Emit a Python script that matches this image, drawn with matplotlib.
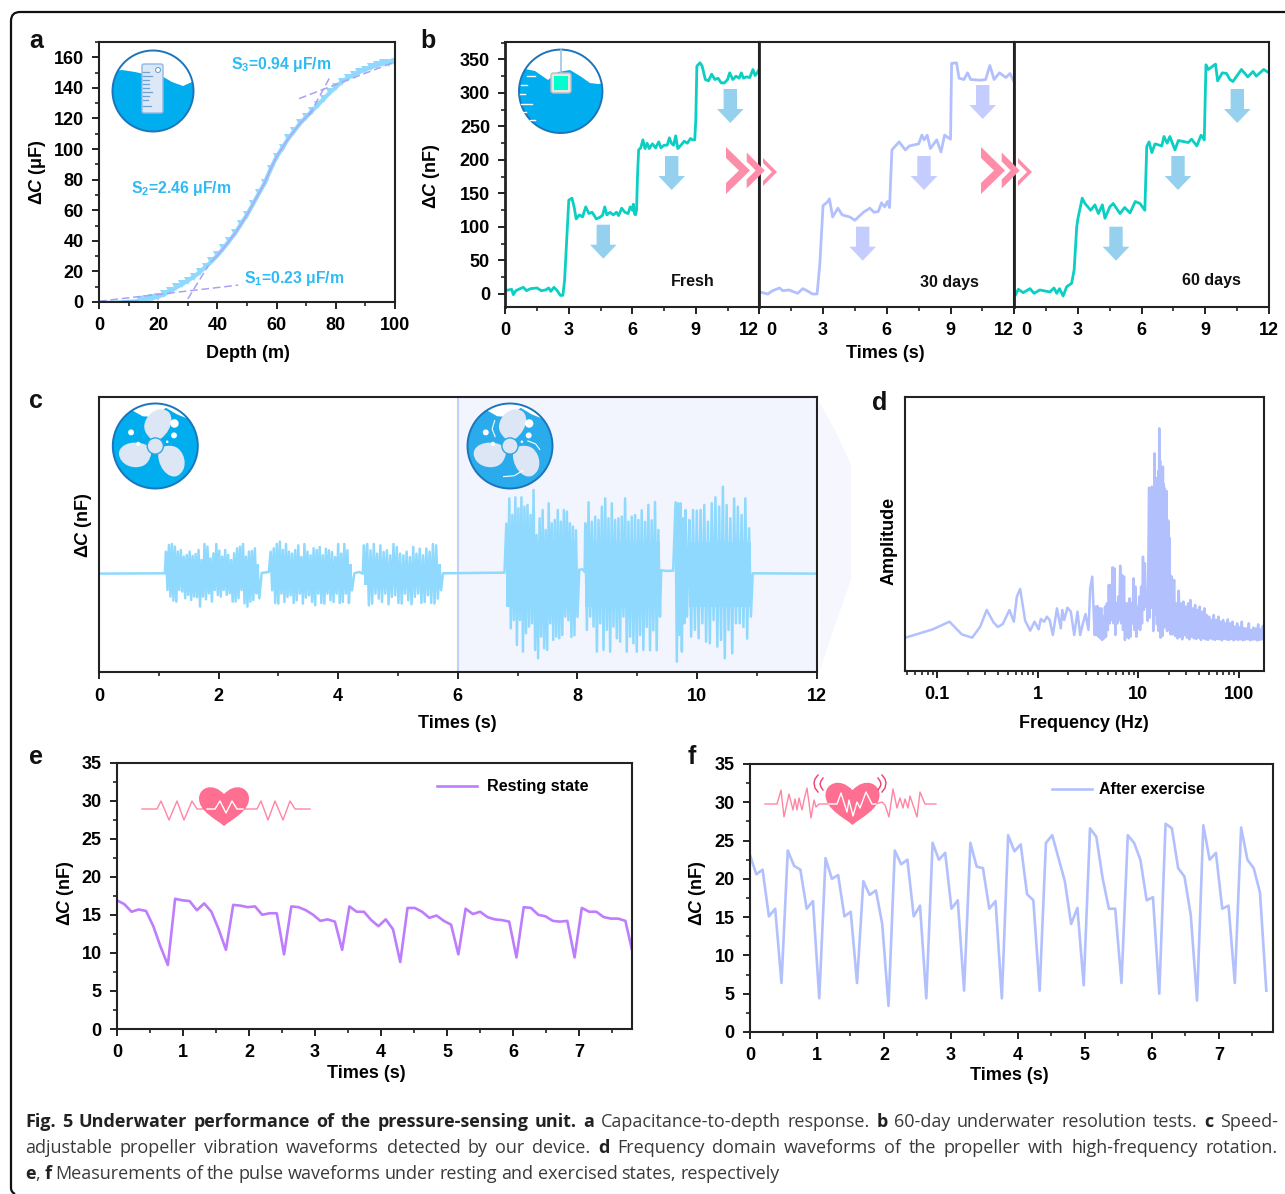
import numpy as np
import matplotlib
matplotlib.use('Agg')
from matplotlib import pyplot as plt
from matplotlib.patches import Circle, Polygon, FancyBboxPatch, PathPatch, Rectangle
from matplotlib.path import Path
from matplotlib.ticker import MultipleLocator, FixedLocator, FixedFormatter, LogLocator, NullFormatter
from matplotlib.transforms import ScaledTranslation

W, H = 1285, 1194

plt.rcParams['font.family'] = ['Liberation Sans', 'DejaVu Sans']
plt.rcParams['font.weight'] = 'bold'
plt.rcParams['axes.labelweight'] = 'bold'
plt.rcParams['mathtext.fontset'] = 'custom'
plt.rcParams['mathtext.rm'] = 'Liberation Sans:bold'
plt.rcParams['mathtext.it'] = 'Liberation Sans:italic:bold'
plt.rcParams['mathtext.bf'] = 'Liberation Sans:bold'

TEAL = '#0ACFC2'
LAV = '#B2C1FD'
SKY = '#8FD9FE'
ANNOT = '#2DBAF5'

# panel a
depth = np.arange(0, 101, 2)
cap = [0, 0.1, 0.2, 0.3, 0.5, 0.8, 1, 1.3, 1.8, 2.5, 3.5, 5, 7, 9.5, 11.5, 14, 16.5, 19.5, 23, 26.5,
       30.5, 35, 40, 45, 51, 57, 64, 71, 78, 87, 95, 101, 107, 112, 117, 121, 125, 129, 133, 137,
       140.5, 144, 146.5, 148.5, 150.5, 152, 153.5, 155, 156, 156.5, 157]
s1_x, s1_y = [0, 47], [0.5, 11]
s2a_x, s2a_y = [30, 37], [2, 24]
s2b_x, s2b_y = [71, 78.3], [122, 148]
s3_x, s3_y = [67.6, 100], [133, 157]

# panel b
fresh_t = [0, .15, .3, .38, .5, .7, .85, 1.0, 1.2, 1.5, 1.7, 1.9, 2.05, 2.15, 2.3, 2.45, 2.6, 2.72, 2.8, 2.9, 3.0, 3.15,
           3.25, 3.35, 3.5, 3.65, 3.8, 3.95, 4.1, 4.3, 4.5, 4.6, 4.7, 4.8, 4.95, 5.1, 5.25, 5.35, 5.5, 5.65, 5.8,
           5.9, 6.0, 6.05, 6.1, 6.15, 6.2, 6.25, 6.3, 6.4, 6.5, 6.6, 6.7, 6.8, 6.95, 7.1, 7.25, 7.35, 7.5, 7.65, 7.75,
           7.85, 7.95, 8.05, 8.15, 8.3, 8.45, 8.6, 8.75, 8.85, 8.95, 9.0, 9.05, 9.2, 9.3, 9.45, 9.6, 9.75, 9.9,
           10.05, 10.2, 10.35, 10.5, 10.6, 10.75, 10.9, 11.05, 11.15, 11.25, 11.4, 11.55, 11.7, 11.8, 11.9, 12.0]
fresh_v = [5, 6, 7, -1, 5, 8, 10, 5, 8, 9, 5, 6, 9, 4, 10, 5, -2, -2, 20, 80, 140, 143,
           130, 112, 118, 115, 130, 120, 122, 112, 115, 118, 130, 118, 122, 118, 122, 117, 128, 122, 120,
           130, 125, 134, 120, 118, 125, 180, 215, 218, 230, 217, 225, 217, 224, 218, 227, 218, 222, 222, 233,
           225, 222, 236, 217, 222, 228, 225, 232, 230, 230, 260, 340, 345, 340, 320, 318, 328, 320,
           322, 315, 315, 320, 330, 320, 325, 322, 330, 322, 324, 323, 335, 326, 330, 336]
d30_t = [0, .15, .4, .63, .95, 1.1, 1.4, 1.8, 2.05, 2.35, 2.5, 2.72, 2.85, 3.0, 3.2, 3.3, 3.45, 3.7, 3.9, 4.25, 4.5, 4.9,
         5.2, 5.4, 5.6, 5.75, 5.9, 6.03, 6.13, 6.24, 6.58, 6.87, 7.07, 7.5, 7.65, 7.76, 7.9, 8.05, 8.35, 8.55, 8.72,
         9.0, 9.05, 9.28, 9.4, 9.63, 9.8, 9.95, 10.4, 10.65, 10.85, 11.05, 11.3, 11.6, 11.8, 11.95]
d30_v = [3, 2, 0, 5, 9, 5, 6, 1, 8, 3, 0, 0, 45, 132, 137, 142, 115, 128, 118, 115, 110, 122,
         128, 122, 123, 136, 130, 138, 129, 215, 227, 215, 221, 224, 237, 230, 237, 217, 230, 212, 237,
         231, 344, 345, 322, 320, 330, 320, 319, 320, 341, 320, 330, 323, 329, 319]
d60_t = [.06, .19, .42, .74, .93, 1.2, 1.68, 1.87, 2.0, 2.13, 2.3, 2.47, 2.7, 2.82, 2.94, 3.0, 3.2, 3.33, 3.6, 3.8, 3.96,
         4.15, 4.27, 4.5, 4.66, 4.98, 5.2, 5.45, 5.7, 5.92, 6.15, 6.24, 6.35, 6.48, 6.63, 6.95, 7.05, 7.2, 7.33, 7.57,
         7.73, 8.2, 8.35, 8.6, 8.8, 8.95, 9.03, 9.14, 9.48, 9.58, 9.8, 10.0, 10.16, 10.3, 10.7, 11.0, 11.25, 11.4,
         11.75, 12.0]
d60_v = [-1, 7, 2, 8, 1, 6, 3, 9, 1, 8, -3, 11, 16, 36, 100, 113, 143, 135, 125, 133, 120,
         133, 113, 130, 135, 120, 129, 121, 138, 135, 125, 220, 227, 211, 224, 221, 235, 225, 235, 215,
         229, 226, 231, 221, 237, 230, 342, 335, 343, 318, 330, 329, 320, 317, 335, 324, 332, 325,
         335, 330]

# panel c, one list of upper and one of lower spikes per burst
bursts_t = [(1.12, 2.68), (2.87, 4.23), (4.43, 5.72), (6.81, 8.0), (8.13, 9.38), (9.64, 9.83), (9.87, 10.9)]
core_up = [.3, .3, .3, .95, .95, .95, .95]
core_lo = [-.35, -.35, -.35, -1.0, -1.0, -1.0, -1.0]
burst_up = [
    [.66, .86, .89, .81, .66, .71, .51, .56, .66, .53, .59, .71, .41, .89, .81, .46, .61, .89, .69, .51,
     .71, .56, .41, .61, .76, .81, .89, .51, .66, .68, .76, .1],
    [.66, .76, .89, .96, .71, .89, .66, .6, .71, .85, .5, .89, .66, .55, .76, .71, .8, .55, .75, .7,
     .65, .5, .89, .6, .89, .7, .1],
    [.85, .89, .7, .89, .6, .85, .65, .7, .55, .89, .8, .6, .55, .66, .5, .8, .6, .75, .55, .75,
     .66, .89, .85, .2],
    [1.5, 2.26, 1.76, 2.29, 1.96, 2.29, 2.01, 2.06, 1.76, 2.51, 1.16, 1.66, 1.91, 1.31, 2.11, 1.51, 1.61, 1.91,
     1.56, 1.91, 1.86, 1.51, 1.41, 1.3],
    [1.51, 2.14, 1.56, 1.71, 1.61, 2.01, 2.26, 1.66, 2.11, 1.61, 1.66, 1.71, 2.26, 1.56, 1.71, 1.76, 1.61, 1.9,
     1.55, 2.06, 1.6, 2.15, 1.31],
    [2.14, 2.11, 2.11, 1.66, 1.91],
    [1.61, 1.91, 1.89, 1.91, 2.06, 1.56, 2.11, 2.29, 2.01, 2.61, 2.06, 1.66, 2.26, 2.01, 1.76, 2.26, 1.36],
]
burst_lo = [
    [-.49, -.69, -.81, -.84, -.49, -.54, -.74, -.64, -.79, -.69, -.71, -.99, -.69, -.77, -.59, -.84, -.49,
     -.64, -.69, -.49, -.64, -.59, -.84, -.84, -.74, -.49, -.89, -.99, -.84, -.79, -.59, -.74],
    [-.5, -.88, -.9, -.6, -.85, -.7, -.65, -.88, -.8, -.6, -.9, -.72, -.65, -.85, -.95, -.6, -.88, -.9, -.6,
     -.8, -.85, -.6, -.88, -.85, -.6, -.88, -.5],
    [-.3, -.95, -.9, -.6, -.75, -.85, -.6, -.92, -.7, -.65, -.88, -.9, -.6, -.8, -.92, -.7, -.6, -.88, -.85, -.65,
     -.88, -.9, -.75, -.5],
    [-.64, -1.64, -1.39, -2.14, -1.39, -2.34, -1.79, -1.59, -1.49, -2.29, -2.54, -1.89, -2.24, -2.29, -1.49, -1.99,
     -1.89, -1.94, -1.84, -1.29, -1.4, -1.9, -1.85, -1.3],
    [-1.69, -1.29, -1.59, -2.34, -1.49, -2.29, -1.69, -2.34, -1.59, -1.94, -2.04, -1.29, -2.34, -1.89, -2.09,
     -2.34, -1.84, -2.29, -1.6, -2.3, -1.7, -2.3, -1.29],
    [-2.64, -1.84, -2.34, -1.49, -1.29],
    [-1.89, -1.69, -1.94, -1.49, -2.04, -2.09, -1.39, -2.19, -1.99, -2.54, -1.69, -2.39, -1.49, -1.49, -1.6, -1.95,
     -1.29],
]
quiet_t = [0, 1.1, 2.72, 2.84, 4.27, 4.35, 4.41, 5.75, 6.78, 8.03, 8.08, 8.12, 9.4, 9.5, 9.6, 9.85, 10.93, 12]
quiet_v = [0, .01, .02, .05, .01, .05, .0, .01, .03, .12, .13, .06, .1, .08, .09, .08, .01, .0]

# panel d
low_f = [.0481, .090, .132, .175, .222, .267, .31, .362, .40, .448, .522, .577, .618, .667, .748, .839, .927, 1.02,
         1.07, 1.156, 1.23, 1.31, 1.41, 1.55, 1.69, 1.75, 1.83, 1.97, 2.13, 2.30, 2.48, 2.64, 2.81, 2.98, 3.19, 3.32,
         3.48, 3.67]
low_a = [1.0, 1.25, 1.48, 1.1, 1.0, 1.33, 1.83, 1.46, 1.32, 1.41, 1.83, 1.48, 2.23, 2.46, 1.51, 1.21, 1.48, 1.25,
         1.56, 1.48, 1.63, 1.53, 1.08, 1.88, 1.28, 1.83, 1.53, 1.9, 1.78, 1.08, 1.78, 1.08, 1.43, 1.71, 1.23, 2.48,
         2.83, 1.08]
mid_up = [1.93, 1.95, 1.88, 1.88, 1.63, 1.93, 2.03, 2.58, 2.58, 3.11, 3.08, 2.03, 2.23, 3.16, 2.88, 2.83, 2.03, 2.03,
          2.18, 2.03, 2.78, 2.53, 1.93, 2.23, 2.53, 3.43, 3.23, 2.23]
mid_lo = [1.08, 1.03, .98, .93, .98, 1.03, 1.23, 1.43, 1.53, 1.43, 1.08, 1.43, 1.53, 1.43, 1.23, .93, 1.03, .98, 1.03,
          1.43, 1.23, 1.03, 1.28, 1.23, 1.43, 1.83, 1.93, 1.5]
peak_up = [5.5, 4.8, 4.4, 5.53, 4.6, 5.0, 6.53, 5.8, 5.53, 5.0, 6.0, 7.28, 6.3, 5.23, 4.9, 6.13, 5.6, 5.48, 5.0, 5.4,
           4.53, 4.5, 4.0, 2.88]
peak_lo = [1.6, 2.2, 1.9, 2.4, 1.2, 2.6, 1.7, 2.3, 1.4, 2.5, 1.2, 2.2, 1.0, 2.4, 1.05, 2.2, 1.3, 1.5, 1.8, 1.2, 1.6,
           1.3, 1.2, 1.1]
tail_up = [2.83, 2.73, 2.03, 2.41, 2.03, 2.08, 1.93, 2.03, 2.13, 1.88, 1.98, 1.83, 1.93, 1.78, 1.88, 1.68, 1.63, 1.53,
           1.68, 1.53, 1.63, 1.48, 1.53, 1.43, 1.55, 1.43, 1.48, 1.33, 1.43, 1.31, 1.48, 1.28, 1.28, 1.43, 1.23, 1.3,
           1.28, 1.4, 1.25, 1.35]
tail_lo = [1.1, 1.05, .98, 1.02, .95, 1.08, 1.0, .95, 1.03, .98, .96, 1.0, .93, .98, .95, .93, .98, .95, .93, .96,
           .95, .92, .97, .94, .93, .96, .92, .95, .93, .95, .92, .94, .96, .92, .94, .95, .92, .93, .95, .94]

# panels e and f
rest_v = [16.9, 16.4, 15.4, 15.7, 15.5, 13.5, 10.8, 8.4, 17.1, 16.9, 16.8, 15.6, 16.5, 15.4, 13.1, 10.4, 16.3, 16.2,
          16.0, 16.1, 15.0, 15.2, 15.2, 9.8, 16.1, 16.0, 15.6, 15.0, 14.2, 14.4, 14.1, 10.4, 16.1, 15.4, 15.4, 14.3,
          13.5, 14.4, 13.1, 8.8, 15.9, 15.9, 15.4, 14.6, 14.9, 14.2, 13.7, 9.8, 15.8, 15.1, 15.4, 14.7, 14.4, 14.3,
          14.1, 9.4, 16.0, 15.9, 15.0, 14.8, 14.2, 14.1, 14.2, 9.4, 15.9, 15.4, 15.4, 14.7, 14.5, 14.5, 14.2, 10.0]
exer_v = [23.1, 20.6, 21.2, 15.1, 16.1, 6.4, 23.7, 21.7, 21.2, 16.1, 17.1, 4.4, 22.7, 20.0, 20.5, 15.1, 15.7, 6.4,
          19.7, 17.9, 18.5, 14.1, 3.4, 23.7, 21.9, 22.5, 15.1, 16.5, 4.4, 24.7, 22.5, 23.4, 16.1, 17.2, 5.4, 24.7,
          21.6, 21.4, 16.1, 17.1, 4.4, 25.7, 23.6, 24.5, 18.0, 17.2, 5.4, 24.7, 25.7, 22.7, 19.7, 14.1, 16.2, 6.1,
          26.6, 25.5, 20.1, 16.1, 16.1, 6.4, 25.7, 24.7, 22.5, 17.2, 17.6, 5.0, 27.2, 26.6, 21.4, 20.3, 15.3, 4.1,
          27.0, 22.5, 23.4, 16.1, 16.5, 6.4, 26.7, 22.5, 21.4, 18.2, 5.4]


fig = plt.figure(figsize=(W / 100, H / 100), dpi=100)
ov = fig.add_axes([0, 0, 1, 1], zorder=10)
ov.set_xlim(0, W)
ov.set_ylim(H, 0)
ov.axis('off')
ov.patch.set_alpha(0)

all_axes = []


def panel(l, t, r, b):
    ax = fig.add_axes([l / W, 1 - b / H, (r - l) / W, (b - t) / H])
    for s in ax.spines.values():
        s.set_linewidth(1.5)
        s.set_color('#222222')
    ax.tick_params(which='major', length=5, width=1.4, labelsize=13, pad=6, color='#222222')
    ax.tick_params(which='minor', length=3, width=1.2, color='#222222')
    all_axes.append(ax)
    return ax


def labels(ax, xlab, xpos, ylab, ypos):
    if xlab:
        ax.set_xlabel(xlab, fontsize=13, va='center')
        ax.xaxis.set_label_coords(*xpos, transform=ov.transData)
    if ylab:
        ax.set_ylabel(ylab, fontsize=13, va='center')
        ax.yaxis.set_label_coords(*ypos, transform=ov.transData)


def zigzag(t0, t1, up, lo):
    t = np.linspace(t0, t1, 2 * len(up))
    y = np.zeros(2 * len(up))
    y[0::2] = up
    y[1::2] = lo
    return t, y


DELTA_NF = 'Δ$\\mathit{C}$ (nF)'

# a
ax = panel(99, 42, 395, 302)
ax.plot(depth, cap, color='#7FC8F5', lw=1.4)
ax.plot(depth[7:], cap[7:], color=SKY, lw=3.0, marker='v', ms=5.5, mew=0)
ax.plot(depth[19:37], cap[19:37], color='#AFA8F5', lw=1.1)
for xs, ys in [(s1_x, s1_y), (s2a_x, s2a_y), (s2b_x, s2b_y), (s3_x, s3_y)]:
    ax.plot(xs, ys, color='#A9A2F4', lw=1.1, ls=(0, (5, 2.5)))
ax.set_xlim(0, 100)
ax.set_ylim(0, 170)
ax.xaxis.set_major_locator(MultipleLocator(20))
ax.xaxis.set_minor_locator(MultipleLocator(10))
ax.yaxis.set_major_locator(MultipleLocator(20))
ax.yaxis.set_minor_locator(MultipleLocator(10))
labels(ax, 'Depth (m)', (248, 354), 'Δ$\\mathit{C}$ (μF)', (38, 172))

# b
series_b = [(fresh_t, fresh_v, TEAL), (d30_t, d30_v, LAV), (d60_t, d60_v, TEAL)]
edges = [(505.3, 759.3), (759.3, 1014.3), (1014.3, 1269)]
axes_b = []
for i, ((ts, vs, col), (l, r)) in enumerate(zip(series_b, edges)):
    ax = panel(l, 42, r, 307)
    ax.plot(ts, vs, color=col, lw=2.0)
    ax.set_xlim(0, 12)
    ax.set_ylim(-19.4, 376)
    ax.set_xticks([0, 3, 6, 9, 12])
    ax.xaxis.set_minor_locator(MultipleLocator(1.5))
    if i == 0:
        ax.yaxis.set_major_locator(MultipleLocator(50))
        ax.yaxis.set_minor_locator(MultipleLocator(25))
        labels(ax, None, None, DELTA_NF, (432, 176))
    else:
        ax.set_yticks([])
    if i == 1:
        labels(ax, 'Times (s)', (885, 354), None, None)
    ax.spines['left'].set_linewidth(2)
    axes_b.append(ax)

# c
ax = panel(99, 397.3, 816.7, 672.3)
ax.axvspan(6, 12, color='#F3F5FE', lw=0)
ax.axvline(6, color='#C5CFFC', lw=1.5)
tc, yc = [], []
q = 0
for (t0, t1), up, lo, cu, cl in zip(bursts_t, burst_up, burst_lo, core_up, core_lo):
    while quiet_t[q] < t0:
        tc.append(quiet_t[q])
        yc.append(quiet_v[q])
        q += 1
    bt, by = zigzag(t0, t1, up, lo)
    tc.extend(bt)
    yc.extend(by)
    ax.fill_between([t0, t1], [cl, cl], [cu, cu], color=SKY, lw=0)
tc.extend(quiet_t[q:])
yc.extend(quiet_v[q:])
ax.plot(tc, yc, color=SKY, lw=1.8)
ax.set_xlim(0, 12)
ax.set_ylim(-2.96, 5.29)
ax.set_yticks([])
ax.xaxis.set_major_locator(MultipleLocator(2))
ax.xaxis.set_minor_locator(MultipleLocator(1))
labels(ax, 'Times (s)', (457, 723), DELTA_NF, (84, 525))

# d
ax = panel(905.3, 396.7, 1264, 671)
_, ma = zigzag(0, 1, mid_up, mid_lo)
mf = np.geomspace(3.75, 12.4, len(ma))
_, pa = zigzag(0, 1, peak_up, peak_lo)
pf = np.geomspace(12.8, 21.0, len(pa))
_, ta = zigzag(0, 1, tail_up, tail_lo)
tf = np.geomspace(21.5, 178, len(ta))
ax.semilogx(list(low_f) + list(mf) + list(pf) + list(tf), list(low_a) + list(ma) + list(pa) + list(ta), color=LAV, lw=1.8)
ax.set_xlim(0.048, 178)
ax.set_ylim(0, 8.23)
ax.set_yticks([])
ax.xaxis.set_major_locator(FixedLocator([0.1, 1, 10, 100]))
ax.xaxis.set_major_formatter(FixedFormatter(['0.1', '1', '10', '100']))
ax.xaxis.set_minor_locator(LogLocator(base=10, subs=np.arange(2, 10), numticks=12))
ax.xaxis.set_minor_formatter(NullFormatter())
labels(ax, 'Frequency (Hz)', (1084, 723), 'Amplitude', (889, 541))

# e
ax = panel(117, 762.5, 632, 1029)
ax.plot(np.linspace(0, 7.81, len(rest_v)), rest_v, color='#BE7DFC', lw=1.9, label='Resting state')
ax.set_xlim(0, 7.8)
ax.set_ylim(0, 35)
ax.xaxis.set_major_locator(MultipleLocator(1))
ax.xaxis.set_minor_locator(MultipleLocator(.5))
ax.yaxis.set_major_locator(MultipleLocator(5))
ax.yaxis.set_minor_locator(MultipleLocator(2.5))
labels(ax, 'Times (s)', (366, 1073), DELTA_NF, (65, 893))
ax.legend(loc='center left', bbox_to_anchor=(437, 787), bbox_transform=ov.transData, frameon=False, fontsize=11.6,
          borderpad=0, borderaxespad=0, handlelength=2.5, handletextpad=0.6)

# f
ax = panel(750, 764, 1273, 1032)
ax.plot(np.linspace(0, 7.71, len(exer_v)), exer_v, color=LAV, lw=1.9, label='After exercise')
ax.set_xlim(0, 7.81)
ax.set_ylim(0, 35)
ax.xaxis.set_major_locator(MultipleLocator(1))
ax.xaxis.set_minor_locator(MultipleLocator(.5))
ax.yaxis.set_major_locator(MultipleLocator(5))
ax.yaxis.set_minor_locator(MultipleLocator(2.5))
labels(ax, 'Times (s)', (1009, 1075), DELTA_NF, (698, 893))
ax.legend(loc='center left', bbox_to_anchor=(1052, 790), bbox_transform=ov.transData, frameon=False, fontsize=11.5,
          borderpad=0, borderaxespad=0, handlelength=2.5, handletextpad=0.45)

# ---- everything below is drawn in pixel coordinates on the overlay ----
frame = Path([(15, 1194), (11, 1192), (11, 1188), (11, 21), (11, 12), (20, 12), (1285, 12)],
             [Path.MOVETO, Path.CURVE3, Path.CURVE3, Path.LINETO, Path.CURVE3, Path.CURVE3, Path.LINETO])
ov.add_patch(PathPatch(frame, fc='none', ec='#111111', lw=1.6))

for letter, x, y in [('a', 36, 41), ('b', 428, 41), ('c', 36, 401), ('d', 880, 403), ('e', 36, 757), ('f', 692, 757)]:
    ov.text(x, y, letter, fontsize=18, ha='center', va='center', color='#111111')

ov.text(281, 64, 'S$_{3}$=0.94 μF/m', fontsize=11.3, color=ANNOT, ha='center', va='center')
ov.text(181, 188, 'S$_{2}$=2.46 μF/m', fontsize=11.3, color=ANNOT, ha='center', va='center')
ov.text(294, 278, 'S$_{1}$=0.23 μF/m', fontsize=11.3, color=ANNOT, ha='center', va='center')
ov.text(693, 281, 'Fresh', fontsize=11.5, ha='center', va='center', color='#111111')
ov.text(949, 283, '30 days', fontsize=11.5, ha='center', va='center', color='#111111')
ov.text(1211, 281, '60 days', fontsize=11.5, ha='center', va='center', color='#111111')


def arrow(cx, top, col):
    ov.add_patch(Polygon([(cx - 6.7, top), (cx + 6.7, top), (cx + 6.7, top + 20), (cx + 13.3, top + 20), (cx, top + 34),
                          (cx - 13.3, top + 20), (cx - 6.7, top + 20)], fc=col, ec='none'))


for cx, top in [(603.3, 224.7), (671.7, 156), (730.3, 89), (1116, 226.7), (1178, 156), (1237.3, 89)]:
    arrow(cx, top, '#95D1EE')
for cx, top in [(862.7, 226.7), (924, 156), (982.7, 85)]:
    arrow(cx, top, '#C5CDFF')


def chevron(x, yc, hh, w, inner, col):
    ov.add_patch(Polygon([(x, yc - hh), (x + w, yc), (x, yc + hh), (x, yc + hh - inner), (x + w - inner, yc),
                          (x, yc - hh + inner)], fc=col, ec='none'))


for dx in [0, 255]:
    chevron(726 + dx, 170.5, 23.5, 24, 11, '#FE8DAA')
    chevron(746.7 + dx, 170.5, 18, 18, 9, '#FE8DAA')
    chevron(763 + dx, 172, 14, 14, 5, '#FE8DAA')

ov.add_patch(Polygon([(818, 400), (835, 430), (851, 465), (851, 580), (835, 625), (820, 670)], fc='#F6F7FE', ec='none', zorder=0))


def disc(cx, cy, r, col='#00AEEF'):
    c = Circle((cx, cy), r, fc=col, ec='none', zorder=3)
    ov.add_patch(c)
    ov.add_patch(Circle((cx, cy), r, fc='none', ec='#1B75BC', lw=1.4, zorder=6))
    return c


# ruler icon
c = disc(153, 91, 40.5)
p = Polygon([(110, 45), (196, 45), (196, 83), (192, 82), (183, 86), (172, 82), (160, 75), (148, 75), (135, 72), (122, 70), (110, 72)],
            fc='white', ec='none', zorder=4)
ov.add_patch(p)
p.set_clip_path(c)
ov.add_patch(FancyBboxPatch((142, 64), 21, 49, boxstyle='round,pad=0,rounding_size=2', fc='#DCE8F5', ec='#8FB8E6', lw=1, zorder=5))
ov.add_patch(Circle((158, 70), 2.5, fc='white', ec='#6FA3D8', lw=0.8, zorder=6))
for yy, ln in [(72, 6), (76, 9), (80, 6), (84, 6), (88, 6), (92, 9), (96, 6), (100, 5), (106, 8)]:
    ov.plot([142.5, 142.5 + ln], [yy, yy], color='#6FA3D8', lw=0.9, zorder=6)

# sensor icon
c = disc(560.7, 91.3, 41.7)
p = Polygon([(515, 45), (605, 45), (605, 83), (598, 84), (590, 83), (580, 76), (570, 70), (558, 72), (548, 80), (535, 71), (525, 69), (515, 70)],
            fc='white', ec='none', zorder=4)
ov.add_patch(p)
p.set_clip_path(c)
ov.plot([561, 561], [50, 73], color='#9CC4E8', lw=1.2, zorder=6)
ov.add_patch(FancyBboxPatch((551, 73), 20, 20, boxstyle='round,pad=0,rounding_size=2.5', fc='#E6E6E6', ec='#BDBDBD', lw=1, zorder=7))
ov.add_patch(Rectangle((554, 76), 14, 14, fc='#00FFCC', ec='none', zorder=8))
for yy, x0, ln in [(76, 527, 8), (85, 521, 6), (94, 520, 5), (104, 521, 11), (112, 521, 5), (120, 530, 5)]:
    ov.plot([x0, x0 + ln], [yy, yy], color='white', lw=1, zorder=6)


def blade(cx, cy, r, ang):
    local = [(.1, 0), (.3, -.35), (.75, -.42), (.85, -.2), (.95, .05), (.7, .3), (.45, .3), (.3, .3), (.15, .15), (.1, 0)]
    a = np.radians(ang)
    pts = [(cx + r * (vx * np.cos(a) - vy * np.sin(a)), cy - r * (vx * np.sin(a) + vy * np.cos(a))) for vx, vy in local]
    codes = [Path.MOVETO] + [Path.CURVE4] * 9
    ov.add_patch(PathPatch(Path(pts, codes), fc='#DCE6F4', ec='none', zorder=5))


def fan(cx, cy, r, col, swirl=False):
    c = disc(cx, cy, r, col)
    p = Polygon([(cx - r, cy - r), (cx + r, cy - r), (cx + .82 * r, cy - .62 * r), (cx + .5 * r, cy - .75 * r), (cx + .25 * r, cy - .9 * r),
                 (cx, cy - .68 * r), (cx - .3 * r, cy - .7 * r), (cx - .65 * r, cy - .9 * r)], fc='white', ec='none', zorder=4)
    ov.add_patch(p)
    p.set_clip_path(c)
    for ang in [85, 205, -40]:
        blade(cx, cy, r, ang)
    ov.add_patch(Circle((cx, cy), .19 * r, fc='#DCE6F4', ec='#2EA6E0', lw=1, zorder=6))
    for bx, by, br in [(-.57, -.32, .07), (.45, -.53, .1), (.44, -.25, .07), (-.4, -.05, .05), (.28, -.1, .03)]:
        ov.add_patch(Circle((cx + bx * r, cy + by * r), br * r, fc='white', ec='none', zorder=6))
    if swirl:
        for xs, ys in [((-.35, -.42, -.36), (-.22, -.4, -.6)), ((.42, .6, .7), (-.12, -.05, .08)), ((-.15, .1, .3), (.72, .7, .58))]:
            ov.plot([cx + v * r for v in xs], [cy + v * r for v in ys], color='white', lw=0.8, zorder=6)


fan(155.3, 446, 42.5, '#00AEEF')
fan(510, 446, 42.5, '#29ABEC', swirl=True)


def heart(cx, cy, sx, sy):
    verts = [(0, 1), (-.3, .7), (-1, .35), (-1, -.25), (-1, -.75), (-.45, -1), (0, -.45), (.45, -1), (1, -.75), (1, -.25), (1, .35), (.3, .7), (0, 1), (0, 1)]
    codes = [Path.MOVETO] + [Path.CURVE4] * 12 + [Path.CLOSEPOLY]
    pts = [(cx + vx * sx, cy + vy * sy) for vx, vy in verts]
    ov.add_patch(PathPatch(Path(pts, codes), fc='#FF6F91', ec='none', zorder=3))


heart(224, 804, 25, 22)
ov.plot([142, 157, 161, 169, 177, 184, 192, 197, 207], [809, 809, 801, 820, 801, 820, 801, 809, 809], color='#FF85A2', lw=1, zorder=2)
ov.plot([207, 215, 220, 226, 232, 237, 243], [809, 809, 801, 813, 801, 809, 809], color='white', lw=1, zorder=4)
ov.plot([243, 257, 261, 268, 275, 283, 290, 295, 310], [809, 809, 801, 820, 801, 820, 801, 809, 809], color='#FF85A2', lw=1, zorder=2)

heart(852.5, 801, 27, 24)
ov.plot([765, 777, 781, 784, 789, 793, 795, 797, 799, 802, 804, 807, 811, 814, 816, 819, 829],
        [804, 804, 790, 817, 794, 810, 799, 810, 798, 810, 800, 788, 818, 800, 807, 804, 804], color='#FF85A2', lw=1, zorder=2)
ov.plot([829, 837, 841, 847, 849, 853, 857, 860, 866, 872, 876],
        [804, 804, 793, 812, 800, 816, 802, 808, 792, 804, 804], color='white', lw=1, zorder=4)
ov.plot([876, 882, 885, 889, 893, 897, 900, 903, 905, 908, 910, 917, 920, 925, 936],
        [804, 802, 805, 817, 789, 808, 798, 808, 799, 808, 796, 817, 792, 804, 804], color='#FF85A2', lw=1, zorder=2)
for xs, ys in [((818, 815, 814, 815, 818), (775, 779, 783, 788, 792)), ((823, 821, 820, 821, 823), (778, 781, 784, 787, 790)),
               ((882, 885, 886, 885, 882), (775, 779, 783, 788, 792)), ((878, 880, 881, 880, 878), (778, 781, 784, 787, 790))]:
    ov.plot(xs, ys, color='#EE3E6D', lw=1, zorder=3)

fig.canvas.draw()
rend = fig.canvas.get_renderer()

# bold numbers, and the "12" / "0" pairs in panel b stay apart as in the figure
for ax in all_axes:
    for lab in ax.get_xticklabels() + ax.get_yticklabels():
        lab.set_fontweight('bold')
for i, ax in enumerate(axes_b):
    ticks = ax.xaxis.get_major_ticks()
    if i < 2:
        ticks[-1].label1.set_ha('right')
    if i > 0:
        lab = ticks[0].label1
        lab.set_ha('left')
        lab.set_transform(lab.get_transform() + ScaledTranslation(6.5 / 100, 0, fig.dpi_scale_trans))

# caption, word by word so the first two lines can be justified
caption = [
    ([('Fig. 5 Underwater performance of the pressure-sensing unit. a', True), ('Capacitance-to-depth response.', False),
      ('b', True), ('60-day underwater resolution tests.', False), ('c', True), ('Speed-', False)], 1120, True),
    ([('adjustable propeller vibration waveforms detected by our device.', False), ('d', True),
      ('Frequency domain waveforms of the propeller with high-frequency rotation.', False)], 1146, True),
    ([('e', True), (',', False), ('f', True), ('Measurements of the pulse waveforms under resting and exercised states, respectively', False)], 1172, False),
]
for runs, yy, justify in caption:
    words = []
    for txt, bold in runs:
        for w in txt.split(' '):
            words.append((w, bold))
    items = []
    for w, bold in words:
        tx = ov.text(25, yy, w, fontsize=13, family='Open Sans', fontweight='bold' if bold else 'normal',
                     color='#222222' if bold else '#3A3A3A', ha='left', va='center_baseline')
        items.append(tx)
    widths = [tx.get_window_extent(rend).width for tx in items]
    gap = (1278 - 25 - sum(widths)) / (len(items) - 1) if justify else 4.2
    x = 25
    for i, (tx, wd) in enumerate(zip(items, widths)):
        tx.set_x(x)
        x += wd + gap
        if i + 1 < len(items) and words[i + 1][0] == ',':
            x -= gap

fig.savefig('out.png', dpi=100)
